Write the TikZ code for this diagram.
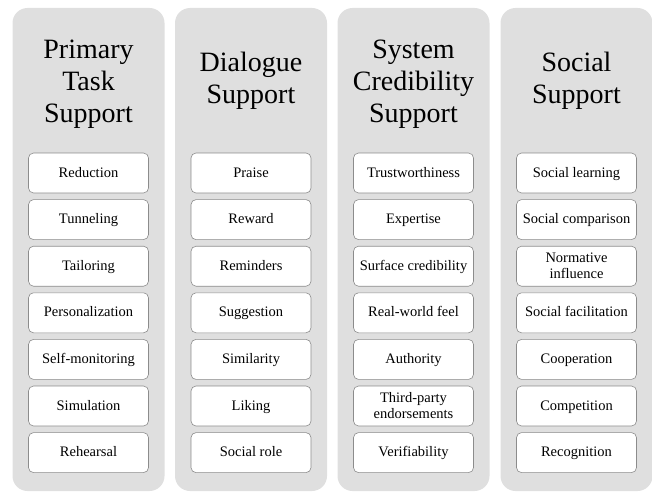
\documentclass[tikz,border=0pt]{standalone}
\usepackage{fontspec}
\setmainfont{Liberation Serif}
\usepackage{tikz}
\usetikzlibrary{positioning}
\definecolor{colgray}{RGB}{223,223,223}
\definecolor{boxline}{RGB}{140,140,140}
\tikzstyle{column}  = [rounded corners=15pt, fill=colgray, minimum width=152pt, minimum height=483pt, inner sep=0pt]
\tikzstyle{heading} = [align=center, font=\rmfamily\fontsize{28}{32}\selectfont]
\tikzstyle{twoline} = [rounded corners=5pt, draw=boxline, fill=white, line width=0.6pt, minimum width=120pt, minimum height=40pt, inner sep=1pt, align=center, font=\rmfamily\fontsize{14.5}{16}\selectfont]
\tikzstyle{item}    = [twoline, text height=11pt, text depth=3pt]

\begin{document}
\begin{tikzpicture}[x=1pt,y=-1pt, node distance=6pt]
        \useasboundingbox (0,0) rectangle (652,492);

        % columns
        \node[column] (pts) at (88.5,249.5) {};
        \node[column] (ds)  at (251,249.5) {};
        \node[column] (scs) at (413.5,249.5) {};
        \node[column] (ss)  at (576.5,249.5) {};

        % headings
        \node[heading] (ptsh) at (88.5,84) {Primary\\Task\\Support};
        \node[heading] (dsh)  at (251,81) {Dialogue\\Support};
        \node[heading] (scsh) at (413.5,84) {System\\Credibility\\Support};
        \node[heading] (ssh)  at (576.5,81) {Social\\Support};

        % primary task support
        \node[item] (pts1) at (88.5,173) {Reduction};
        \node[item, below=of pts1] (pts2) {Tunneling};
        \node[item, below=of pts2] (pts3) {Tailoring};
        \node[item, below=of pts3] (pts4) {Personalization};
        \node[item, below=of pts4] (pts5) {Self-monitoring};
        \node[item, below=of pts5] (pts6) {Simulation};
        \node[item, below=of pts6] (pts7) {Rehearsal};

        % dialogue support
        \node[item] (ds1) at (251,173) {Praise};
        \node[item, below=of ds1] (ds2) {Reward};
        \node[item, below=of ds2] (ds3) {Reminders};
        \node[item, below=of ds3] (ds4) {Suggestion};
        \node[item, below=of ds4] (ds5) {Similarity};
        \node[item, below=of ds5] (ds6) {Liking};
        \node[item, below=of ds6] (ds7) {Social role};

        % system credibility support
        \node[item] (scs1) at (413.5,173) {Trustworthiness};
        \node[item, below=of scs1] (scs2) {Expertise};
        \node[item, below=of scs2] (scs3) {Surface credibility};
        \node[item, below=of scs3] (scs4) {Real-world feel};
        \node[item, below=of scs4] (scs5) {Authority};
        \node[twoline, below=of scs5] (scs6) {Third-party\\endorsements};
        \node[item, below=of scs6] (scs7) {Verifiability};

        % social support
        \node[item] (ss1) at (576.5,173) {Social learning};
        \node[item, below=of ss1] (ss2) {Social comparison};
        \node[twoline, below=of ss2] (ss3) {Normative\\influence};
        \node[item, below=of ss3] (ss4) {Social facilitation};
        \node[item, below=of ss4] (ss5) {Cooperation};
        \node[item, below=of ss5] (ss6) {Competition};
        \node[item, below=of ss6] (ss7) {Recognition};
    \end{tikzpicture}
\end{document}
